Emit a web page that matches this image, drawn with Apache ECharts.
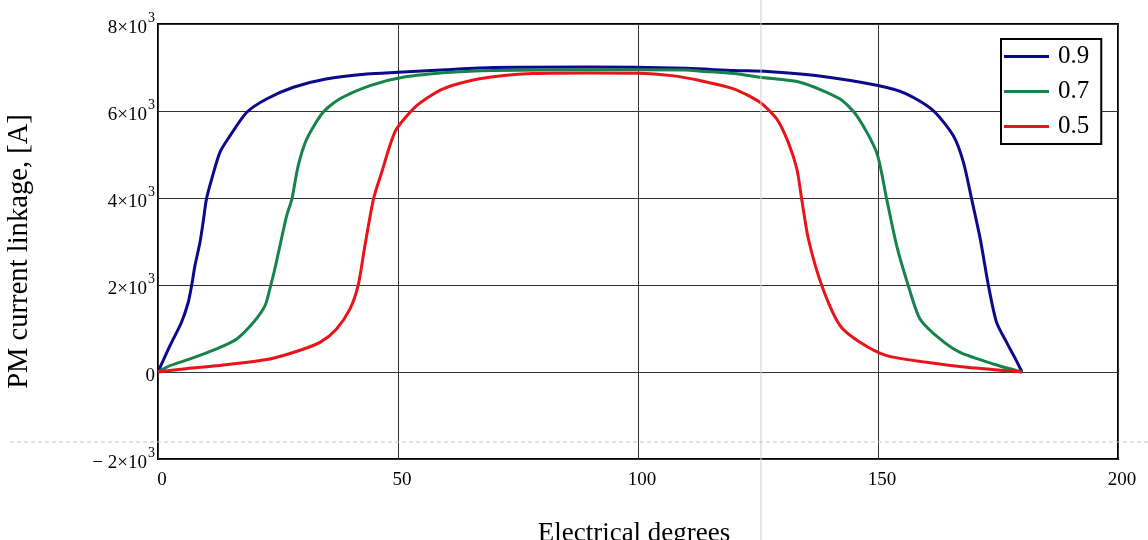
<!DOCTYPE html>
<html>
<head>
<meta charset="utf-8">
<script src="https://cdn.jsdelivr.net/npm/echarts@6/dist/echarts.min.js"></script>
<style>html,body{margin:0;padding:0;background:#fff}#c{width:1148px;height:540px}</style>
</head>
<body>
<div id="c"></div>
<script>
// ---- data ----
var seriesNames = ['0.9', '0.7', '0.5'];
var xTicks = [0, 50, 100, 150, 200];
var yTicks = [-2000, 0, 2000, 4000, 6000, 8000];

var xBlue = [0, 2.5, 4.9, 6.3, 7, 7.7, 8.75, 9.4, 10.1, 11.2, 12.9, 15, 18.5, 22.6, 28.2, 35, 43.5, 50, 60, 70, 90, 110, 120, 127, 137, 150, 156, 161.5, 165.7, 167.8, 169.5, 171.3, 173, 174.7, 176.8, 178.5, 180];
var yBlue = [0, 605, 1143, 1603, 1985, 2445, 2983, 3443, 3979, 4440, 5050, 5430, 5970, 6275, 6545, 6735, 6850, 6890, 6950, 7000, 7010, 6980, 6930, 6910, 6815, 6585, 6390, 6010, 5430, 4820, 3980, 3060, 1990, 1140, 680, 330, 0];

var xGreen = [0, 2.5, 6.7, 12.2, 16.4, 19.9, 22.3, 23.3, 24.3, 25.4, 26.8, 27.9, 29.2, 31, 34.4, 37.9, 44.2, 51, 61, 70, 90, 110, 113, 120, 125.4, 133.75, 142, 145.6, 149.7, 151.8, 153.9, 156.3, 158.75, 162.9, 167.1, 174, 180];
var yGreen = [0, 145, 300, 530, 760, 1143, 1525, 1910, 2350, 2900, 3590, 3980, 4740, 5360, 5970, 6280, 6585, 6775, 6890, 6930, 6950, 6940, 6915, 6860, 6775, 6660, 6280, 5890, 5050, 3980, 2900, 1990, 1220, 760, 450, 185, 0];

var xRed = [0, 5.3, 12.2, 23.3, 29.6, 33.75, 37.2, 40, 41.7, 43.1, 44.9, 46.6, 48.3, 49.7, 53.9, 59.4, 67, 78, 90, 100, 107, 112.9, 119.9, 125.4, 128.9, 131.3, 133.1, 134.1, 135.5, 138.3, 142.1, 146.25, 151.8, 160.1, 168.5, 180];
var yRed = [0, 69, 145, 300, 500, 680, 990, 1450, 1990, 2900, 3980, 4590, 5200, 5590, 6124, 6510, 6740, 6860, 6875, 6870, 6813, 6700, 6510, 6200, 5817, 5280, 4667, 3978, 3058, 1985, 1065, 683, 375, 223, 107, 0];

var colors = ['#0a0a8c', '#168448', '#e8141a'];

function pairs(xs, ys) { return xs.map(function (x, i) { return [x, ys[i]]; }); }

var serif = '"Liberation Serif", "DejaVu Serif", serif';
var chart = echarts.init(document.getElementById('c'), null, { renderer: 'canvas' });

var dataSets = [pairs(xBlue, yBlue), pairs(xGreen, yGreen), pairs(xRed, yRed)];

chart.setOption({
  animation: false,
  backgroundColor: '#fff',
  grid: { left: 158, right: 30, top: 24, bottom: 81, containLabel: false, outerBoundsMode: 'none',
          show: true, borderColor: '#000', borderWidth: 2, backgroundColor: 'transparent' },
  xAxis: {
    type: 'value', min: xTicks[0], max: xTicks[xTicks.length - 1], interval: 50,
    name: 'Electrical degrees', nameLocation: 'middle', nameGap: 61,
    nameTextStyle: { fontFamily: serif, fontSize: 27, color: '#000', padding: [0, 8, 0, 0] },
    axisLine: { show: false }, axisTick: { show: false },
    axisLabel: { fontFamily: serif, fontSize: 19, color: '#000', margin: 12, padding: [0, 0, 0, 8] },
    splitLine: { show: true, lineStyle: { color: '#333', width: 1 } }
  },
  yAxis: {
    type: 'value', min: yTicks[0], max: yTicks[yTicks.length - 1], interval: 2000,
    name: 'PM current linkage, [A]', nameLocation: 'middle', nameGap: 124, nameRotate: 90,
    nameTextStyle: { fontFamily: serif, fontSize: 28.6, color: '#000', padding: [0, 20, 0, 0] },
    axisLine: { show: false }, axisTick: { show: false },
    axisLabel: {
      fontFamily: serif, fontSize: 19, color: '#000', margin: 3, padding: [8, 0, 0, 0],
      formatter: function (v) {
        if (v === 0) return '0';
        var m = v / 1000;
        var s = m < 0 ? '\u2212 ' + (-m) : '' + m;
        return '{n|' + s + '\u00d710}{e|3}';
      },
      rich: {
        n: { fontFamily: serif, fontSize: 19, lineHeight: 19, color: '#000', verticalAlign: 'bottom' },
        e: { fontFamily: serif, fontSize: 14, lineHeight: 14, color: '#000', verticalAlign: 'bottom', padding: [0, 0, 12, 1] }
      }
    },
    splitLine: { show: true, lineStyle: { color: '#333', width: 1 } }
  },
  legend: {
    data: seriesNames, orient: 'vertical', left: 1001, top: 39,
    backgroundColor: '#fff', borderColor: '#000', borderWidth: 2, borderRadius: 0,
    padding: [5, 12, 5, 3], itemGap: 10, itemWidth: 45, itemHeight: 3, icon: 'rect',
    textStyle: { fontFamily: serif, fontSize: 25, color: '#000', lineHeight: 25, padding: [0, 0, 0, 4] }
  },
  graphic: [
    { type: 'line', silent: true, z: 100, shape: { x1: 761, y1: 0, x2: 761, y2: 540 }, style: { stroke: '#cfcfcf', lineWidth: 1 } },
    { type: 'line', silent: true, z: 100, shape: { x1: 10, y1: 442, x2: 1148, y2: 442 }, style: { stroke: '#c4c4c4', lineWidth: 1, lineDash: [4, 3] } }
  ],
  series: seriesNames.map(function (n, i) {
    return {
      name: n, type: 'line', data: dataSets[i], showSymbol: false, symbol: 'none',
      smooth: 0.25,
      lineStyle: { color: colors[i], width: 3 }, itemStyle: { color: colors[i] }
    };
  })
});
</script>
</body>
</html>
